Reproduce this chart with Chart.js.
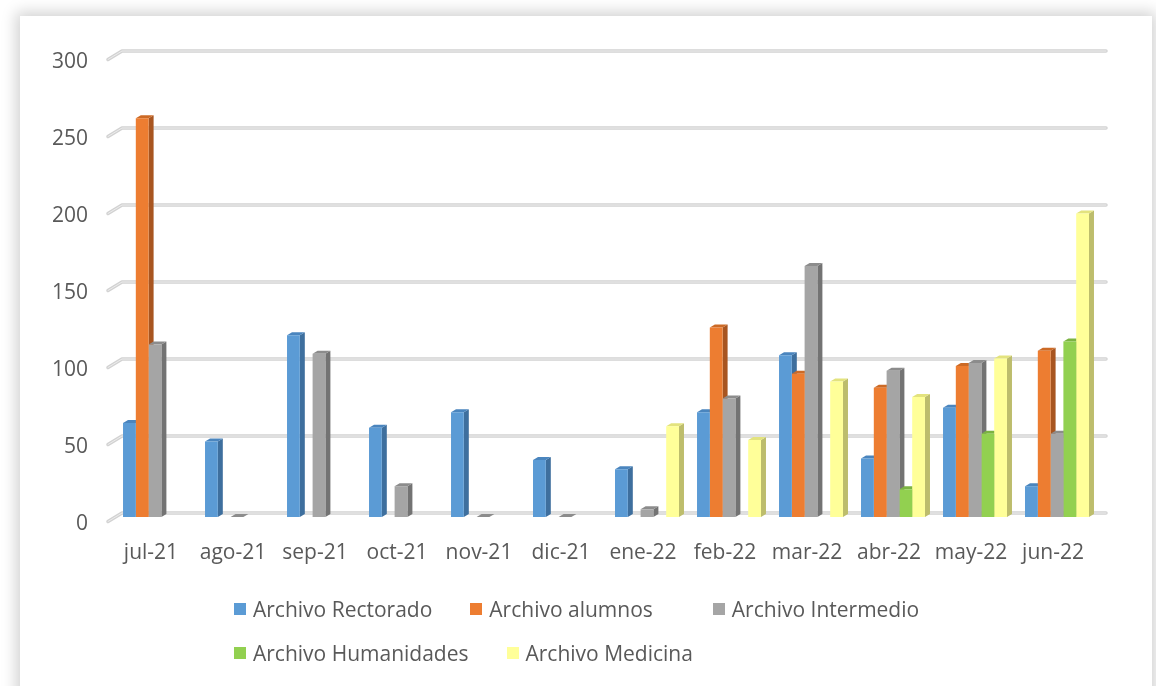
<!DOCTYPE html>
<html lang="es">
<head>
<meta charset="utf-8">
<title>Consultas por archivo</title>
<script src="https://cdn.jsdelivr.net/npm/chart.js@4.4.1/dist/chart.umd.min.js"></script>
<style>
  html, body { margin: 0; padding: 0; background: #fff; width: 1156px; height: 686px; overflow: hidden; font-family: "Open Sans", sans-serif; }
  #frame { position: absolute; left: 20px; top: 16px; width: 1132px; height: 720px; background: #fff; box-shadow: 0 0 14px 4px rgba(0,0,0,0.18); }
  #chart { position: absolute; left: 0; top: 0; }
  #legend { position: absolute; left: 234px; top: 597px; width: 740px; display: flex; flex-wrap: wrap; column-gap: 38px; row-gap: 20px; color: #595959; font-size: 21px; line-height: 24px; }
  #legend .item { display: flex; align-items: center; white-space: nowrap; }
  #legend .item i { display: inline-block; width: 12px; height: 12px; margin-right: 7px; }
  #legend .item:nth-child(2) { margin-right: 22px; }
</style>
</head>
<body>
<div id="frame"></div>
<canvas id="chart" width="1156" height="686"></canvas>
<div id="legend"></div>
<script>
const months = ['jul-21', 'ago-21', 'sep-21', 'oct-21', 'nov-21', 'dic-21', 'ene-22', 'feb-22', 'mar-22', 'abr-22', 'may-22', 'jun-22'];
const seriesNames = ['Archivo Rectorado', 'Archivo alumnos', 'Archivo Intermedio', 'Archivo Humanidades', 'Archivo Medicina'];

const rectorado   = [61, 49, 118, 58, 68, 37, 31, 68, 105, 38, 71, 20];
const alumnos     = [259, null, null, null, null, null, null, 123, 93, 84, 98, 108];
const intermedio  = [112, 0, 106, 20, 0, 0, 5, 77, 163, 95, 100, 54];
const humanidades = [null, null, null, null, null, null, null, null, null, 18, 54, 114];
const medicina    = [null, null, null, null, null, null, 59, 50, 88, 78, 103, 197];

const yTicks = [0, 50, 100, 150, 200, 250, 300];

// front / side / top colours for the fake 3D columns
const frontColors = ['#5B9BD5', '#ED7D31', '#A5A5A5', '#92D050', '#FFFF99'];
const sideColors  = ['#3E6F9E', '#A85520', '#737373', '#679536', '#BDBD6C'];
const topColors   = ['#4A85BE', '#CC6A26', '#8C8C8C', '#7BB342', '#E3E37E'];

const DEPTH_X = 5;
const DEPTH_Y = 3;
const textColor = '#595959';

// back wall gridlines with the little slanted floor edge on the left
const wallPlugin = {
    id: 'wall',
    beforeDatasetsDraw(chart) {
        const {ctx, chartArea, scales: {y}} = chart;
        ctx.save();
        ctx.lineJoin = 'round';
        ctx.lineCap = 'round';
        yTicks.forEach(v => {
            const py = y.getPixelForValue(v);
            ctx.beginPath();
            ctx.moveTo(chartArea.left - 6, py + 4.5);
            ctx.lineTo(chartArea.left + 8, py - 4);
            ctx.lineTo(chartArea.right + 8, py - 4);
            ctx.strokeStyle = '#D2D2D2';
            ctx.lineWidth = 3.5;
            ctx.stroke();
            ctx.strokeStyle = '#EDEDED';
            ctx.lineWidth = 1;
            ctx.stroke();
        });
        ctx.restore();
    }
};

// side and top faces go under every front face, so neighbours hide them
const columnsPlugin = {
    id: 'columns3d',
    beforeDatasetsDraw(chart) {
        const ctx = chart.ctx;
        ctx.save();
        chart.data.datasets.forEach((ds, i) => {
            const meta = chart.getDatasetMeta(i);
            meta.data.forEach((bar, j) => {
                if (ds.data[j] == null) return;
                const {x, y, base, width} = bar.getProps(['x', 'y', 'base', 'width'], true);
                const l = x - width / 2;
                const r = x + width / 2;

                ctx.fillStyle = sideColors[i];
                ctx.beginPath();
                ctx.moveTo(r, y);
                ctx.lineTo(r + DEPTH_X, y - DEPTH_Y);
                ctx.lineTo(r + DEPTH_X, base - DEPTH_Y);
                ctx.lineTo(r, base);
                ctx.closePath();
                ctx.fill();

                ctx.fillStyle = topColors[i];
                ctx.beginPath();
                ctx.moveTo(l, y);
                ctx.lineTo(l + DEPTH_X, y - DEPTH_Y);
                ctx.lineTo(r + DEPTH_X, y - DEPTH_Y);
                ctx.lineTo(r, y);
                ctx.closePath();
                ctx.fill();
            });
        });
        ctx.restore();
    }
};

function buildLegend(){
    const legend = document.getElementById('legend');
    seriesNames.forEach((name, i) => {
        const item = document.createElement('span');
        item.className = 'item';
        const box = document.createElement('i');
        box.style.background = frontColors[i];
        item.appendChild(box);
        item.appendChild(document.createTextNode(name));
        legend.appendChild(item);
    });
}

function createChart(){
    Chart.defaults.font.family = '"Open Sans", sans-serif';
    Chart.defaults.font.size = 21;
    Chart.defaults.color = textColor;

    const values = [rectorado, alumnos, intermedio, humanidades, medicina];
    const datasets = values.map((data, i) => ({
        label: seriesNames[i],
        data: data,
        backgroundColor: frontColors[i],
        borderWidth: 0,
        categoryPercentage: 0.78,
        barPercentage: 1.0
    }));

    new Chart(document.getElementById('chart'), {
        type: 'bar',
        data: {
            labels: months,
            datasets: datasets
        },
        options: {
            responsive: false,
            animation: false,
            layout: {
                padding: { left: 20, right: 58, top: 55, bottom: 0 }
            },
            plugins: {
                legend: { display: false },
                title: { display: false },
                tooltip: { enabled: false }
            },
            scales: {
                x: {
                    grid: { display: false },
                    border: { display: false },
                    ticks: {
                        padding: 15,
                        labelOffset: -4
                    },
                    afterFit: (scale) => { scale.height = 169; }
                },
                y: {
                    min: 0,
                    max: 300,
                    grid: { display: false },
                    border: { display: false },
                    afterBuildTicks: (scale) => { scale.ticks = yTicks.map(v => ({value: v})); },
                    ticks: {
                        padding: 18,
                        labelOffset: 7
                    },
                    afterFit: (scale) => { scale.width = 94; }
                }
            }
        },
        plugins: [wallPlugin, columnsPlugin]
    });
}

buildLegend();
document.fonts.load('21px "Open Sans"').then(createChart, createChart);
</script>
</body>
</html>
